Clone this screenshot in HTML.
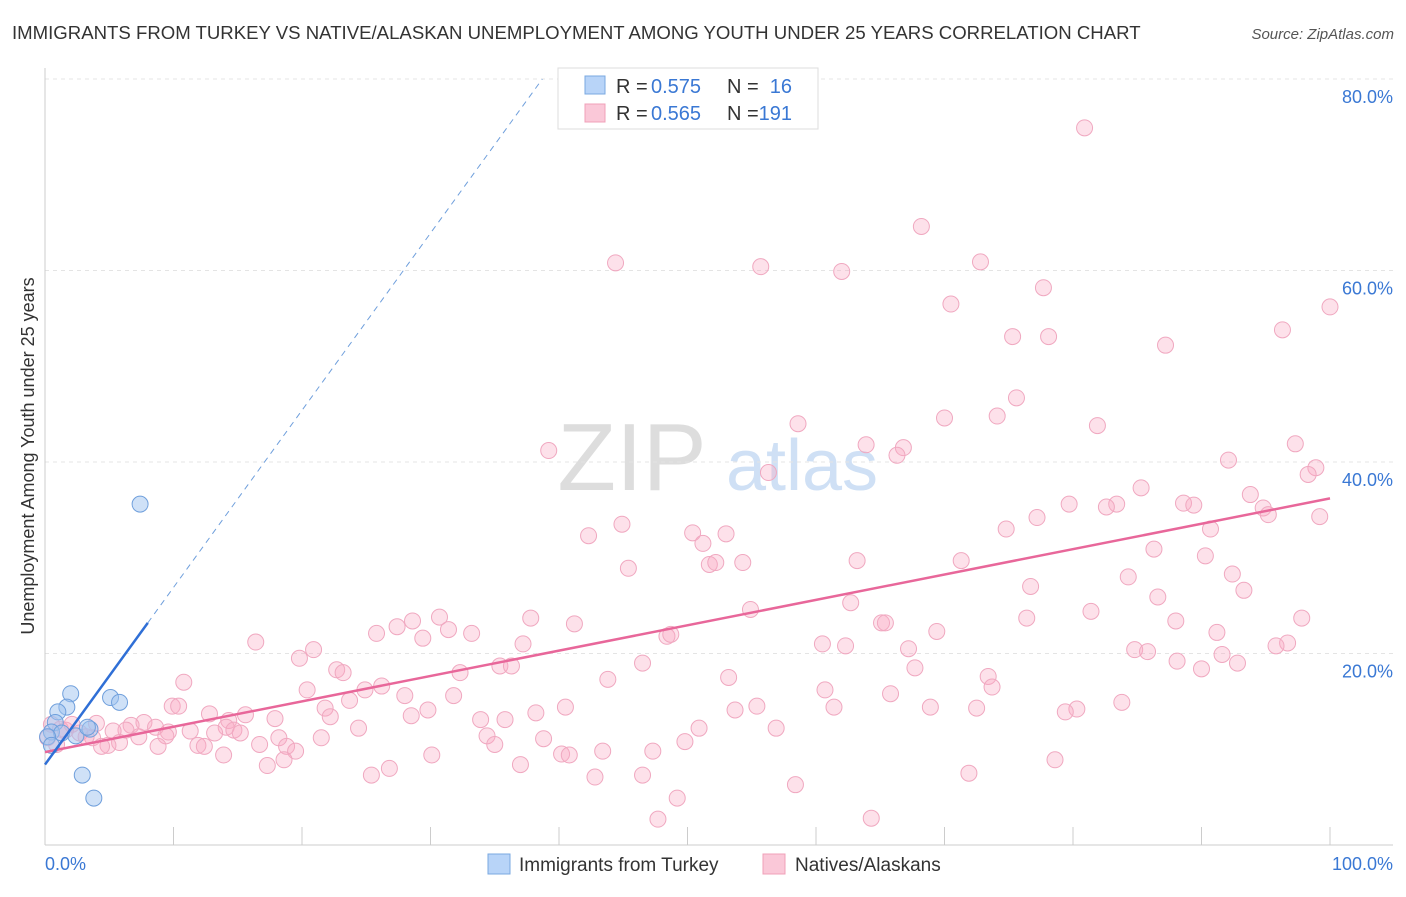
<!DOCTYPE html>
<html><head><meta charset="utf-8"><style>
body{margin:0;background:#fff;font-family:"Liberation Sans",sans-serif;}
svg text{font-family:"Liberation Sans",sans-serif;}
</style></head><body>
<svg id="chart" width="1406" height="892">
<text x="12" y="39" font-size="18.6" fill="#333">IMMIGRANTS FROM TURKEY VS NATIVE/ALASKAN UNEMPLOYMENT AMONG YOUTH UNDER 25 YEARS CORRELATION CHART</text>
<text x="1394" y="39" font-size="15" fill="#555" font-style="italic" text-anchor="end">Source: ZipAtlas.com</text>
<g><text x="632" y="490" font-size="96" fill="#ddd" font-family="Liberation Serif" text-anchor="middle">ZIP</text><text x="802" y="490" font-size="72" fill="#cfe0f5" text-anchor="middle">atlas</text></g>
<g id="grid"></g><g id="marks"></g>
<text transform="translate(34,456) rotate(-90)" font-size="18" fill="#333" text-anchor="middle">Unemployment Among Youth under 25 years</text>
<g>
<rect x="558" y="68" width="260" height="61" fill="#fff" stroke="#ddd"/>
<rect x="585" y="76" width="20" height="18" fill="#b8d4f8" stroke="#7aa8e0"/>
<rect x="585" y="104" width="20" height="18" fill="#fac8d8" stroke="#f0a0b8"/>
<text x="616" y="93" font-size="20" fill="#333">R =</text><text x="651" y="93" font-size="20" fill="#3a78d4">0.575</text>
<text x="727" y="93" font-size="20" fill="#333">N =</text><text x="792" y="93" font-size="20" fill="#3a78d4" text-anchor="end">16</text>
<text x="616" y="120" font-size="20" fill="#333">R =</text><text x="651" y="120" font-size="20" fill="#3a78d4">0.565</text>
<text x="727" y="120" font-size="20" fill="#333">N =</text><text x="792" y="120" font-size="20" fill="#3a78d4" text-anchor="end">191</text>
</g>
<g>
<rect x="488" y="854" width="22" height="20" fill="#b8d4f8" stroke="#7aa8e0"/>
<text x="519" y="871" font-size="19" fill="#333">Immigrants from Turkey</text>
<rect x="763" y="854" width="22" height="20" fill="#fac8d8" stroke="#f0a0b8"/>
<text x="795" y="871" font-size="19" fill="#333">Natives/Alaskans</text>
</g>
</svg>
<script>
const yTicks=[20,40,60,80];
const yTickLabels=["20.0%","40.0%","60.0%","80.0%"];
const xTicks=[0,10,20,30,40,50,60,70,80,90,100];
const xEndLabels=["0.0%","100.0%"];
const pinkX=[80.9,68.2,44.4,55.7,62.0,72.8,77.7,70.5,100,96.3,75.3,78.1,87.2,75.6,74.1,70.0,58.6,81.9,97.3,39.2,63.9,66.8,66.3,56.3,92.1,98.9,98.3,85.3,93.8,79.7,88.6,89.4,83.4,82.6,94.8,95.2,99.2,77.2,44.9,74.8,90.7,50.4,53.0,42.3,51.2,86.3,63.2,71.3,90.3,51.7,52.2,54.3,45.4,92.4,84.3,76.7,93.3,86.6,62.7,54.9,81.4,28.6,30.7,37.8,88.0,76.4,97.8,41.2,27.4,65.1,65.4,31.4,25.8,33.2,69.4,91.2,48.4,48.7,29.4,16.4,37.2,60.5,62.3,67.2,96.7,95.8,20.9,84.8,85.8,91.6,19.8,46.5,88.1,92.8,35.4,36.3,67.7,90.0,22.7,23.2,32.3,53.2,73.4,43.8,10.8,73.7,26.2,20.4,24.9,60.7,65.8,28.0,31.8,23.7,83.8,9.9,10.4,40.5,61.4,68.9,72.5,55.4,80.3,79.4,53.7,29.8,21.8,38.2,12.8,15.6,28.5,22.2,17.9,33.9,35.8,14.3,7.7,6.7,8.6,14.1,14.7,50.9,56.9,4.0,24.4,6.3,11.3,15.2,5.3,9.6,13.2,9.4,7.3,34.4,21.5,18.2,38.8,3.7,5.8,4.9,4.4,8.8,11.9,12.4,16.7,18.8,35.0,49.8,19.5,43.4,47.3,13.9,30.1,40.2,40.8,18.6,78.6,17.3,37.0,26.8,25.4,71.9,46.5,42.8,58.4,49.2,47.7,64.3,0.5,0.2,1.2,0.9,1.6,2.1,2.7,3.2];
const pinkY=[74.9,64.6,60.8,60.4,59.9,60.9,58.2,56.5,56.2,53.8,53.1,53.1,52.2,46.7,44.8,44.6,44.0,43.8,41.9,41.2,41.8,41.5,40.7,38.9,40.2,39.4,38.7,37.3,36.6,35.6,35.7,35.5,35.6,35.3,35.2,34.5,34.3,34.2,33.5,33.0,33.0,32.6,32.5,32.3,31.5,30.9,29.7,29.7,30.2,29.3,29.5,29.5,28.9,28.3,28.0,27.0,26.6,25.9,25.3,24.6,24.4,23.4,23.8,23.7,23.4,23.7,23.7,23.1,22.8,23.2,23.2,22.5,22.1,22.1,22.3,22.2,21.8,22.0,21.6,21.2,21.0,21.0,20.8,20.5,21.1,20.8,20.4,20.4,20.2,19.9,19.5,19.0,19.2,19.0,18.7,18.7,18.5,18.4,18.3,18.0,18.0,17.5,17.6,17.3,17.0,16.5,16.6,16.2,16.2,16.2,15.8,15.6,15.6,15.1,14.9,14.5,14.5,14.4,14.4,14.4,14.3,14.5,14.2,13.9,14.1,14.1,14.3,13.8,13.7,13.6,13.5,13.4,13.2,13.1,13.1,13.0,12.8,12.5,12.3,12.3,12.0,12.2,12.2,12.7,12.2,12.0,11.9,11.7,11.9,11.8,11.7,11.4,11.3,11.4,11.2,11.2,11.1,11.2,10.7,10.4,10.3,10.3,10.4,10.3,10.5,10.3,10.5,10.8,9.8,9.8,9.8,9.4,9.4,9.5,9.4,8.9,8.9,8.3,8.4,8.0,7.3,7.5,7.3,7.1,6.3,4.9,2.7,2.8,12.6,11.2,12.1,10.5,12.0,12.6,11.7,11.3];
const blueX=[7.4,2.0,5.1,5.8,1.7,1.0,0.8,3.5,0.5,1.3,2.4,0.2,0.5,2.9,3.8,3.3];
const blueY=[35.6,15.8,15.4,14.9,14.4,13.9,12.8,12.1,11.8,11.7,11.4,11.3,10.4,7.3,4.9,12.3];
const pinkLine=[9.7,0.265]; // intercept, slope
const blueLine=[8.4,1.85];
const blueSolidEnd=8.0;
const NS="http://www.w3.org/2000/svg";
const xS=v=>45+v*12.85, yS=v=>845-v*9.575;
function mk(t,a,p){const e=document.createElementNS(NS,t);for(const k in a)e.setAttribute(k,a[k]);p.appendChild(e);return e;}
const grid=document.getElementById('grid'),marks=document.getElementById('marks');
yTicks.forEach((t,i)=>{
 const l=mk('line',{x1:45,x2:1393,y1:yS(t),y2:yS(t),stroke:'#e4e4e4','stroke-dasharray':'4,4'},grid);
 
 
 const tx=mk('text',{x:1393,y:yS(t)+24,'font-size':18,fill:'#3a78d4','text-anchor':'end'},grid);
 tx.textContent=yTickLabels[i];
 
 
});
const ax=mk('line',{x1:45,x2:1393,y1:845,y2:845,stroke:'#ccc'},grid);


const ay=mk('line',{x1:45,x2:45,y1:68,y2:845,stroke:'#ccc'},grid);


xTicks.forEach(t=>{const l=mk('line',{x1:xS(t),x2:xS(t),y1:827,y2:845,stroke:'#ccc'},grid);
 
 });
[[0,'start'],[100,'end']].forEach((d,i)=>{const tx=mk('text',{x:i?1393:45,y:870,'font-size':18,fill:'#3a78d4','text-anchor':d[1]},grid);tx.textContent=xEndLabels[i];
 
 });
pinkX.forEach((x,i)=>{const c=mk('circle',{cx:xS(x),cy:yS(pinkY[i]),r:8,fill:'rgba(248,170,195,0.35)',stroke:'#f0a8c0','stroke-width':1},marks);
 
 });
blueX.forEach((x,i)=>{const c=mk('circle',{cx:xS(x),cy:yS(blueY[i]),r:8,fill:'rgba(160,196,240,0.5)',stroke:'#6f9fdc','stroke-width':1},marks);
 
 });
const pl=mk('line',{x1:xS(0),y1:yS(pinkLine[0]),x2:xS(100),y2:yS(pinkLine[0]+100*pinkLine[1]),stroke:'#e8679a','stroke-width':2.5},marks);


const bmax=blueSolidEnd;
const bl=mk('line',{x1:xS(0),y1:yS(blueLine[0]),x2:xS(bmax),y2:yS(blueLine[0]+bmax*blueLine[1]),stroke:'#2f6fd6','stroke-width':2.5},marks);


const xe=(80-blueLine[0])/blueLine[1];
const bd=mk('line',{x1:xS(bmax),y1:yS(blueLine[0]+bmax*blueLine[1]),x2:xS(xe),y2:yS(80),stroke:'#6f9fdc','stroke-width':1,'stroke-dasharray':'6,5'},marks);


</script>
</body></html>
